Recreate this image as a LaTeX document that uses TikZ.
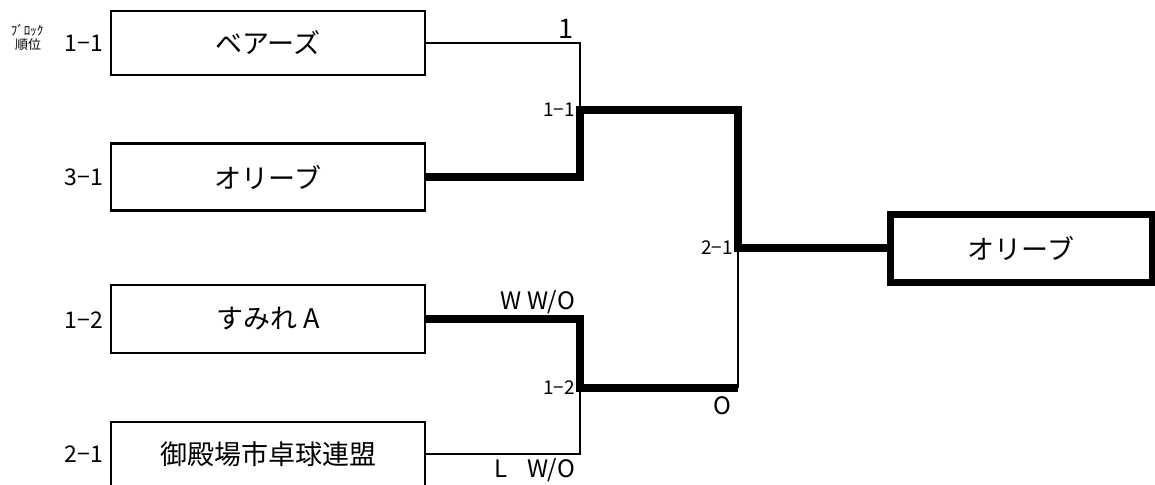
\documentclass[tikz,border=0pt]{standalone}
\usepackage{fontspec}
\setmainfont{Noto Sans CJK JP}
\usepackage{tikz}
\usetikzlibrary{positioning}

\begin{document}
\begin{tikzpicture}[x=1pt, y=-1pt,
		team/.style={draw, line width=2.5pt, minimum width=314pt, minimum height=64pt, inner sep=0pt, font=\fontsize{27}{30}\selectfont},
		champ/.style={draw, line width=7pt, minimum width=262pt, minimum height=68pt, inner sep=0pt, font=\fontsize{27}{30}\selectfont},
		seed/.style={anchor=east, inner sep=0pt, font=\fontsize{23}{25}\selectfont},
		score/.style={inner sep=0pt, font=\fontsize{24}{26}\selectfont},
		game/.style={anchor=east, inner sep=0pt, font=\fontsize{19}{21}\selectfont},
		lose/.style={line width=2.5pt},
		win/.style={line width=7.5pt}]
				\useasboundingbox (0, 0) rectangle (1155, 484);
				\node (bears) at (268, 43) [team] {ベアーズ};
				\node (olive) at (268, 177) [team, minimum height=67pt] {オリーブ};
				\node (sumire) at (268, 319) [team, minimum height=68pt] {すみれ A};
				\node (gotemba) at (268, 454) [team] {御殿場市卓球連盟};
				\node (winner) at (1021, 248) [champ] {オリーブ};

				\node (head) at (27, 37) [inner sep=0pt, align=center, font=\fontsize{13}{14}\selectfont] {ﾌﾞﾛｯｸ\\ \,順位};
				\node (s1) at (103, 43) [seed] {1−1};
				\node (s2) at (103, 177) [seed] {3−1};
				\node (s3) at (103, 320) [seed] {1−2};
				\node (s4) at (103, 454) [seed] {2−1};

				\coordinate (m1) at (580, 110);
				\coordinate (m2) at (580, 388);
				\coordinate (m3) at (738, 248);
				\coordinate (c2) at (738, 388);

				\draw [lose] (bears.east) -| (m1);
				\draw [lose] (gotemba.east) -| (m2);
				\draw [lose] (c2) -- (m3);
				\draw [win] (olive.east) -| (m1) -| (m3) -- (winner.west);
				\draw [win] (sumire.east) -| (m2) -- (c2);

				\node (r1) at (566, 29) [score, font=\fontsize{27}{29}\selectfont] {1};
				\node (g1) at (575, 110) [game] {1−1};
				\node (r2) at (575, 302) [score, anchor=east] {W\hspace{6pt}W/O};
				\node (g2) at (575, 388) [game] {1−2};
				\node (r3) at (575, 470) [score, anchor=east] {L\hspace{20pt}W/O};
				\node (r4) at (722, 406) [score] {O};
				\node (g3) at (733, 248) [game] {2−1};
		\end{tikzpicture}
\end{document}
